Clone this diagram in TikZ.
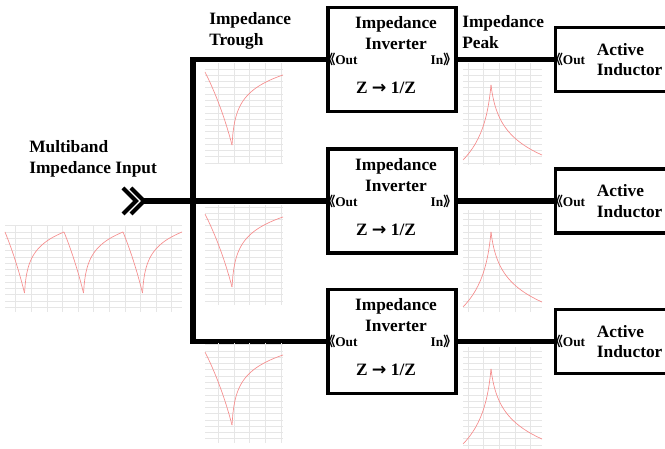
\documentclass[tikz,border=0pt]{standalone}
\usepackage{fontspec}
\setmainfont{Liberation Serif}
\newfontfamily\cjk{Noto Sans CJK SC}
\newfontfamily\arrowfont{DejaVu Sans}
\usetikzlibrary{positioning}
\definecolor{gridgray}{RGB}{230,230,230}
\definecolor{curvepink}{RGB}{245,140,140}
\newcommand{\lchev}{{\cjk\hspace{-0.4em}《}}
\newcommand{\rchev}{{\cjk 》\hspace{-0.4em}}}
\newcommand{\toarrow}{{\arrowfont\bfseries →}}
\tikzset{
  wire/.style={line width=3.8pt},
  chev/.style={line width=3pt, line join=miter},
  invbox/.style={draw, line width=2.4pt, minimum width=96pt, minimum height=78pt, inner sep=0pt},
  aibox/.style={draw, line width=2.4pt, minimum width=97.5pt, minimum height=48pt, inner sep=0pt, anchor=west},
  lbl/.style={font=\fontsize{13}{15.5}\selectfont\bfseries, inner sep=0pt},
  port/.style={font=\fontsize{10}{11}\selectfont\bfseries, inner sep=0.5pt},
  gridline/.style={draw=gridgray, line width=0.4pt, xstep=11.7pt, ystep=4.7pt},
  curve/.style={draw=curvepink, line width=0.5pt, samples=60}
}
\begin{document}
\begin{tikzpicture}[x=0.75pt, y=-0.75pt, line cap=butt, line join=miter]
		\useasboundingbox (0,0) rectangle (665,449);
		% blocks
		\node[invbox] (inv1) at (392,59.5) {};
		\node[invbox] (inv2) at (392,201) {};
		\node[invbox] (inv3) at (392,341.5) {};
		\node[aibox] (ai1) at (554,59.5) {};
		\node[aibox] (ai2) at (554,201) {};
		\node[aibox] (ai3) at (554,341.5) {};
		\coordinate (in) at (144,201);
		\coordinate (bus) at (193,201);
		% wiring
		\draw[wire] (inv1.west) -| (bus) |- (inv3.west);
		\draw[wire] (in) -- (bus) -- (inv2.west);
		\draw[wire] (inv1.east) -- (ai1.west);
		\draw[wire] (inv2.east) -- (ai2.west);
		\draw[wire] (inv3.east) -- (ai3.west);
		\draw[chev] (123,188) -- (136,201) -- (123,214);
		\draw[chev] (131,188) -- (in) -- (131,214);
		% texts
		\node[lbl, align=left, anchor=west] (inlbl) at (29,159) {Multiband\\Impedance Input};
		\node[lbl, align=left, anchor=west] (trlbl) at (209,31) {Impedance\\Trough};
		\node[lbl, align=left, anchor=west] (pklbl) at (462,32) {Impedance\\Peak};
		\node[lbl, align=center] (inv1t) at (396,33) {Impedance\\Inverter};
		\node[lbl, align=center] (inv2t) at (396,175) {Impedance\\Inverter};
		\node[lbl, align=center] (inv3t) at (396,315) {Impedance\\Inverter};
		\node[lbl] (inv1f) at (386,88) {Z \toarrow\ 1/Z};
		\node[lbl] (inv2f) at (386,229.5) {Z \toarrow\ 1/Z};
		\node[lbl] (inv3f) at (386,370) {Z \toarrow\ 1/Z};
		\node[port, right=0pt of inv1.west] (inv1o) {\lchev Out};
		\node[port, right=0pt of inv2.west] (inv2o) {\lchev Out};
		\node[port, right=0pt of inv3.west] (inv3o) {\lchev Out};
		\node[port, left=0pt of inv1.east] (inv1i) {In\rchev};
		\node[port, left=0pt of inv2.east] (inv2i) {In\rchev};
		\node[port, left=0pt of inv3.east] (inv3i) {In\rchev};
		\node[port, right=0pt of ai1.west] (ai1o) {\lchev Out};
		\node[port, right=0pt of ai2.west] (ai2o) {\lchev Out};
		\node[port, right=0pt of ai3.west] (ai3o) {\lchev Out};
		\node[lbl, align=left, right=32pt of ai1.west] (ai1t) {Active\\Inductor};
		\node[lbl, align=left, right=32pt of ai2.west] (ai2t) {Active\\Inductor};
		\node[lbl, align=left, right=32pt of ai3.west] (ai3t) {Active\\Inductor};
		% multiband input sketch
		\draw[gridline] (5,225) grid (182,312);
		\foreach \s in {5,64,123} {
			\draw[curve] plot[domain=0:19.5] ({\s+19.5-\x},{293-61*ln(1+\x/30)/ln(1+19.5/30)});
			\draw[curve] plot[domain=0:39.5] ({\s+19.5+\x},{293-61*ln(1+\x)/ln(40.5)});
		}
		% trough sketches
		\foreach \gy in {63,205,343} {
			\draw[gridline] (205,\gy) grid (283,\gy+100);
			\draw[curve] plot[domain=0:27] ({232-\x},{\gy+82-73*ln(1+\x/30)/ln(1+27/30)});
			\draw[curve] plot[domain=0:51] ({232+\x},{\gy+82-70*ln(1+\x)/ln(52)});
		}
		% peak sketches
		\foreach \gy in {63,210,347} {
			\draw[gridline] (463,\gy) grid (542,\gy+102);
			\draw[curve] plot[domain=0:28] ({491-\x},{\gy+22+75*ln(1+\x/3)/ln(1+28/3)});
			\draw[curve] plot[domain=0:51] ({491+\x},{\gy+22+70*ln(1+\x/3)/ln(18)});
		}
	\end{tikzpicture}
\end{document}
